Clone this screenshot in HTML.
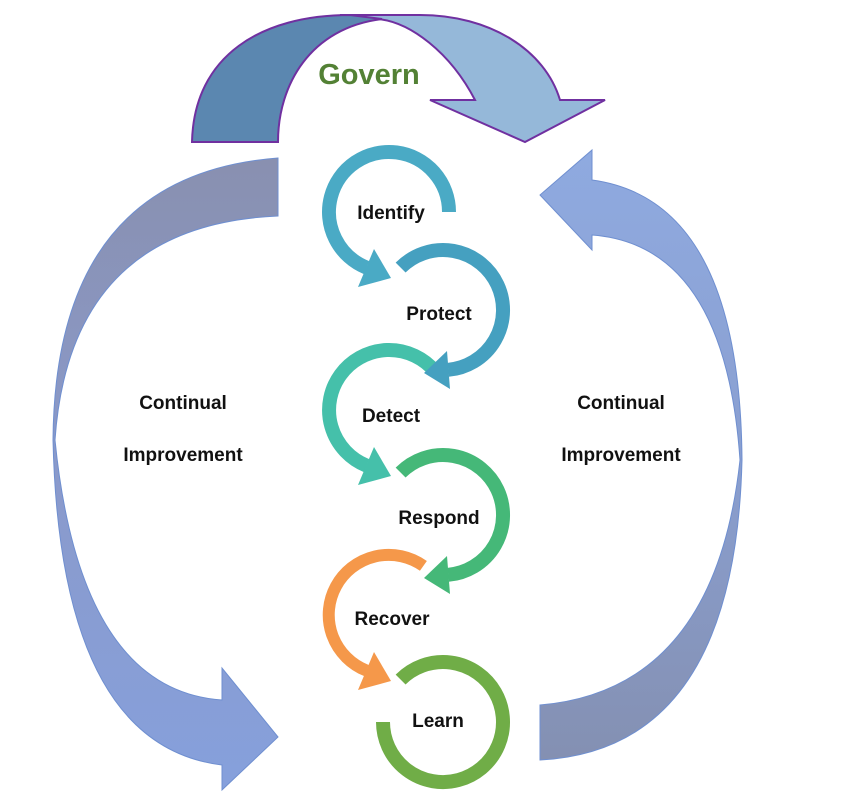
<!DOCTYPE html>
<html><head><meta charset="utf-8"><style>
html,body{margin:0;padding:0;background:#fff}
svg{display:block}
.l{font-family:"Liberation Sans",sans-serif;font-weight:bold;font-size:19px;fill:#111;text-anchor:middle}
</style></head><body>
<svg width="864" height="796" viewBox="0 0 864 796" xmlns="http://www.w3.org/2000/svg">
<defs>
<linearGradient id="gl" x1="0" y1="0" x2="0" y2="1"><stop offset="0" stop-color="#8990b0"/><stop offset="0.5" stop-color="#8a9acb"/><stop offset="1" stop-color="#86a0dc"/></linearGradient>
<linearGradient id="gr" x1="0" y1="0" x2="0" y2="1"><stop offset="0" stop-color="#8faae0"/><stop offset="0.5" stop-color="#8a9fd0"/><stop offset="1" stop-color="#8490b2"/></linearGradient>
</defs>
<path d="M340,15 L420,15 C490,15 545,50 560,100 L605,100 L525,142 L430,100 L475,100 C450,52 410,22 378,19 Z" fill="#95b8d9" stroke="#7030a0" stroke-width="2"/>
<path d="M192,142 C194,55 262,15 350,15 L382,19 C310,28 278,85 278,142 Z" fill="#5b87b0" stroke="#7030a0" stroke-width="2"/>
<text x="369" y="84" font-family="Liberation Sans,sans-serif" font-weight="bold" font-size="29" fill="#538135" text-anchor="middle">Govern</text>
<path d="M278,158 Q55,175 53,440 Q60,745 222,765 L222,790 L278,737 L222,668 L222,700 Q80,690 55,440 Q70,225 278,216 Z" fill="url(#gl)" stroke="#6f8fd0" stroke-width="1"/>
<path d="M540,705 Q715,690 740,460 Q725,245 592,235 L592,250 L540,195 L592,150 L592,180 Q740,200 742,460 Q735,750 540,760 Z" fill="url(#gr)" stroke="#6f8fd0" stroke-width="1"/>
<g fill="none" stroke-width="14">
<path d="M449,212 A60,60 0 1 0 366.5,267.6" stroke="#4aaac5"/>
<path d="M400.6,267.6 A60,60 0 1 1 448.2,369.8" stroke="#45a0c0"/>
<path d="M435,371.4 A60,60 0 1 0 366.5,465.6" stroke="#45c0aa"/>
<path d="M400.6,472.6 A60,60 0 1 1 448.2,574.8" stroke="#45b878"/>
<path d="M423.4,565.9 A60,60 0 1 0 366.5,670.6" stroke="#f5984a" stroke-width="12"/>
<path d="M400.6,679.6 A60,60 0 1 1 383,722" stroke="#70ad47"/>
</g>
<polygon points="358,287 374,249 391,278" fill="#4aaac5"/>
<polygon points="450,389 447,351 424,373" fill="#45a0c0"/>
<polygon points="358,485 374,447 391,476" fill="#45c0aa"/>
<polygon points="450,594 447,556 424,578" fill="#45b878"/>
<polygon points="358,690 374,652 391,681" fill="#f5984a"/>
<text class="l" x="391" y="219">Identify</text>
<text class="l" x="439" y="320">Protect</text>
<text class="l" x="391" y="422">Detect</text>
<text class="l" x="439" y="524">Respond</text>
<text class="l" x="392" y="625">Recover</text>
<text class="l" x="438" y="727">Learn</text>
<text class="l" x="183" y="409">Continual</text>
<text class="l" x="183" y="461">Improvement</text>
<text class="l" x="621" y="409">Continual</text>
<text class="l" x="621" y="461">Improvement</text>
</svg>
</body></html>
